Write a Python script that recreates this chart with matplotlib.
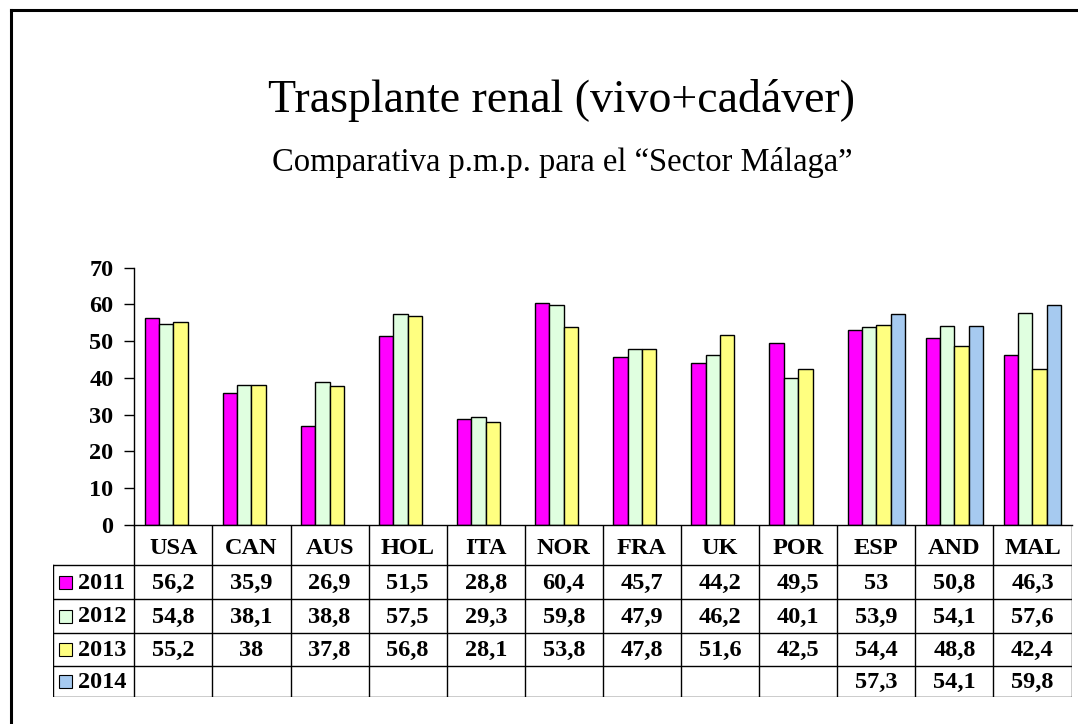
import numpy as np
import matplotlib.pyplot as plt

# data
countries = ['USA', 'CAN', 'AUS', 'HOL', 'ITA', 'NOR', 'FRA', 'UK', 'POR', 'ESP', 'AND', 'MAL']
years = ['2011', '2012', '2013', '2014']
v2011 = [56.2, 35.9, 26.9, 51.5, 28.8, 60.4, 45.7, 44.2, 49.5, 53, 50.8, 46.3]
v2012 = [54.8, 38.1, 38.8, 57.5, 29.3, 59.8, 47.9, 46.2, 40.1, 53.9, 54.1, 57.6]
v2013 = [55.2, 38, 37.8, 56.8, 28.1, 53.8, 47.8, 51.6, 42.5, 54.4, 48.8, 42.4]
v2014 = [None, None, None, None, None, None, None, None, None, 57.3, 54.1, 59.8]
labels2011 = ['56,2', '35,9', '26,9', '51,5', '28,8', '60,4', '45,7', '44,2', '49,5', '53', '50,8', '46,3']
labels2012 = ['54,8', '38,1', '38,8', '57,5', '29,3', '59,8', '47,9', '46,2', '40,1', '53,9', '54,1', '57,6']
labels2013 = ['55,2', '38', '37,8', '56,8', '28,1', '53,8', '47,8', '51,6', '42,5', '54,4', '48,8', '42,4']
labels2014 = ['', '', '', '', '', '', '', '', '', '57,3', '54,1', '59,8']
colors = ['#FF00FF', '#E0FFE0', '#FFFF80', '#A6CAF0']

series = [v2011, v2012, v2013, v2014]
cell_text = [labels2011, labels2012, labels2013, labels2014]

W, H = 1078, 724
fig = plt.figure(figsize=(W / 100, H / 100), dpi=100)
serif = 'Liberation Serif'
fs = 17.5

# outer frame
fig.add_artist(plt.Line2D([11 / W, 11 / W], [0, 1 - 10 / H], color='black', lw=2.2))
fig.add_artist(plt.Line2D([11 / W, 1], [1 - 10 / H, 1 - 10 / H], color='black', lw=2.2))

fig.text(562 / W, 1 - 100 / H, 'Trasplante renal (vivo+cadáver)', ha='center', va='center',
         family=serif, fontsize=33)
fig.text(562 / W, 1 - 162 / H, 'Comparativa p.m.p. para el \u201cSector Málaga\u201d',
         ha='center', va='center', family=serif, fontsize=23.5)

# main chart
x0, x1 = 134.3, 1071.5
ax = fig.add_axes([x0 / W, 1 - 525 / H, (x1 - x0) / W, (525 - 267.7) / H])
n = len(countries)
x = np.arange(n) + 0.5
bw = 0.184
for k, vals in enumerate(series):
    xs = [x[i] + (k - 1.5) * bw for i in range(n) if vals[i] is not None]
    hs = [v for v in vals if v is not None]
    ax.bar(xs, hs, width=bw, color=colors[k], edgecolor='black', linewidth=1)
ax.set_xlim(0, n)
ax.set_ylim(0, 70)
ax.set_yticks(range(0, 71, 10))
ax.set_xticks([])
for s in ['top', 'right']:
    ax.spines[s].set_visible(False)
ax.spines['left'].set_linewidth(1)
ax.spines['bottom'].set_linewidth(1)
ax.tick_params(axis='y', direction='out', length=7, width=1, pad=8)
for t in ax.get_yticklabels():
    t.set_family(serif)
    t.set_fontweight('bold')
    t.set_fontsize(fs)

# data table under the chart
lab_left = 53.3
cw = (x1 - x0) / n
tab = fig.add_axes([lab_left / W, 1 - 697 / H, (x1 - lab_left) / W, (697 - 525) / H])
tab.set_xlim(-(x0 - lab_left) / cw, n)
rows = [0, 40, 74.3, 107.7, 140.7, 172]
tab.set_ylim(172, 0)
tab.axis('off')
lx = -(x0 - lab_left) / cw
for i in range(n + 1):
    tab.plot([i, i], [0, 172], color='black', lw=1)
tab.plot([lx, lx], [40, 172], color='black', lw=1)
for r in rows[1:]:
    tab.plot([lx, n], [r, r], color='black', lw=1)
for i, c in enumerate(countries):
    tab.text(x[i], 23, c, ha='center', va='center', family=serif, fontweight='bold', fontsize=fs)
sq = 13 / cw
for k, yr in enumerate(years):
    yc = (rows[k + 1] + rows[k + 2]) / 2
    tab.add_patch(plt.Rectangle((lx + 6 / cw, yc - 6.5), sq, 13, facecolor=colors[k],
                                edgecolor='black', lw=0.8))
    tab.text(lx + 25 / cw, yc + 1, yr, ha='left', va='center', family=serif,
             fontweight='bold', fontsize=fs)
    for i in range(n):
        tab.text(x[i], yc + 1, cell_text[k][i], ha='center', va='center', family=serif,
                 fontweight='bold', fontsize=fs)

fig.savefig('out.png', dpi=100)
